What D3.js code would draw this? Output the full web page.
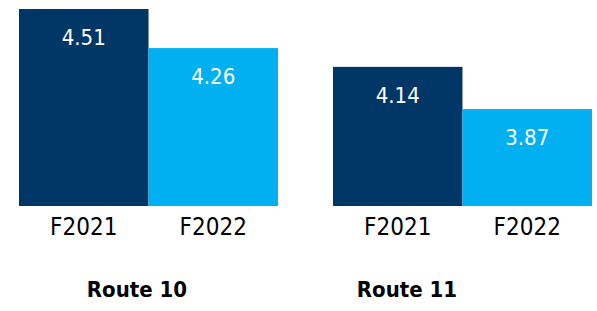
<!DOCTYPE html>
<html>
<head>
<meta charset="utf-8">
<script src="https://cdn.jsdelivr.net/npm/d3@7"></script>
<style>
  body { margin: 0; background: #fff; }
  svg { display: block; font-family: "DejaVu Sans Condensed", "DejaVu Sans", sans-serif; }
</style>
</head>
<body>
<div id="chart"></div>
<script>
// data
const routes = ["Route 10", "Route 11"];
const years = ["F2021", "F2022"];
const route10 = [4.51, 4.26];
const route11 = [4.14, 3.87];
const colors = ["#003767", "#00b0f0"];

const width = 597;
const height = 311;

const svg = d3.select("#chart")
  .append("svg")
  .attr("width", width)
  .attr("height", height);

const data = routes.map((r, i) => ({
  route: r,
  values: years.map((y, j) => ({ year: y, value: [route10, route11][i][j] }))
}));

// scales
const xGroup = d3.scaleBand()
  .domain(routes)
  .range([19, 592])
  .paddingInner(0.175);

const xBar = d3.scaleBand()
  .domain(years)
  .range([0, xGroup.bandwidth()]);

const yScale = d3.scaleLinear()
  .domain([3.25, 4.51])
  .range([206, 9]);

const color = d3.scaleOrdinal()
  .domain(years)
  .range(colors);

// route labels sit a bit left of the bar groups
const xRoute = d3.scalePoint()
  .domain(routes)
  .range([137, 407]);

const groups = svg.selectAll("g.group")
  .data(data)
  .join("g")
  .attr("class", "group")
  .attr("transform", d => `translate(${xGroup(d.route)}, 0)`);

groups.selectAll("rect")
  .data(d => d.values)
  .join("rect")
  .attr("x", d => xBar(d.year))
  .attr("y", d => yScale(d.value))
  .attr("width", xBar.bandwidth())
  .attr("height", d => yScale.range()[0] - yScale(d.value))
  .attr("fill", d => color(d.year));

groups.selectAll("text.value")
  .data(d => d.values)
  .join("text")
  .attr("class", "value")
  .attr("x", d => xBar(d.year) + xBar.bandwidth() / 2)
  .attr("y", d => yScale(d.value) + 36)
  .attr("text-anchor", "middle")
  .attr("fill", "#fff")
  .style("font-size", "22px")
  .text(d => d.value.toFixed(2));

// category axis under each group
groups.each(function () {
  const axis = d3.axisBottom(xBar).tickSize(0).tickPadding(0);
  const g = d3.select(this).append("g")
    .attr("transform", `translate(0, ${yScale.range()[0]})`)
    .call(axis);
  g.select(".domain").remove();
  g.selectAll("text")
    .attr("dy", null)
    .attr("y", 29)
    .attr("fill", "#000")
    .style("font-size", "24px")
    .style("font-family", "\"DejaVu Sans Condensed\", \"DejaVu Sans\", sans-serif");
});

svg.selectAll("text.route")
  .data(routes)
  .join("text")
  .attr("class", "route")
  .attr("x", d => xRoute(d))
  .attr("y", 297)
  .attr("text-anchor", "middle")
  .attr("fill", "#000")
  .style("font-size", "22px")
  .style("font-weight", "bold")
  .text(d => d);
</script>
</body>
</html>
